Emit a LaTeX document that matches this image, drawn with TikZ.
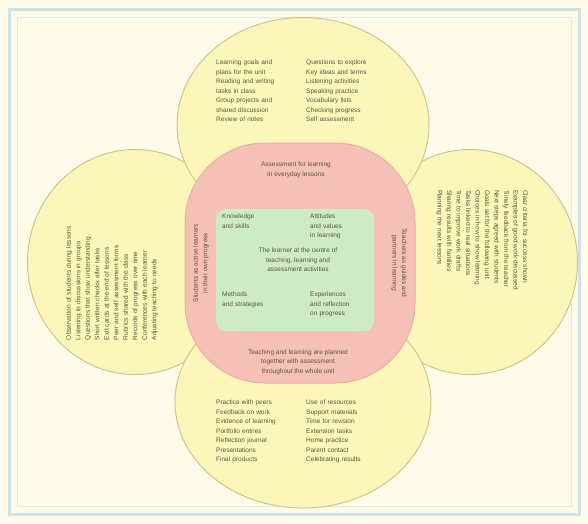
\documentclass[tikz,border=0pt]{standalone}
\usepackage{fontspec}
\setmainfont{Liberation Sans}
\usetikzlibrary{shapes.geometric}
\definecolor{cream}{HTML}{FEFBEA}
\definecolor{framecol}{HTML}{CFE2E6}
\definecolor{petalfill}{HTML}{FBF6BA}
\definecolor{petaledge}{HTML}{CFC68E}
\definecolor{ringfill}{HTML}{F5C0B6}
\definecolor{ringedge}{HTML}{EBADA3}
\definecolor{corefill}{HTML}{CDEBC4}
\definecolor{txt}{HTML}{5C5636}
\tikzset{
  petal/.style={ellipse, draw=petaledge, line width=1pt, fill=petalfill},
  ringnode/.style={rectangle, rounded corners=80pt, draw=ringedge, line width=1pt, fill=ringfill},
  corenode/.style={rectangle, rounded corners=10pt, fill=corefill},
  tline/.style={font=\fontsize{6.5}{9.5}\selectfont, text=txt, align=left, inner sep=0pt},
}
\begin{document}
\begin{tikzpicture}[x=1pt,y=-1pt]
\useasboundingbox (0,0) rectangle (588,523);
\fill[cream] (0,0) rectangle (588,523);
\draw[framecol, line width=3pt] (9,9) rectangle (579,514);
\draw[framecol!70, line width=0.6pt] (17,17) rectangle (571,506);

% petals
\node[petal, minimum width=215pt, minimum height=225pt] (left) at (135,262) {};
\node[petal, minimum width=215pt, minimum height=225pt] (right) at (470,262) {};
\node[petal, minimum width=252pt, minimum height=215pt] (top) at (303,125) {};
\node[petal, minimum width=256pt, minimum height=212pt] (bottom) at (303,402) {};

% ring and core
\node[ringnode, minimum width=230pt, minimum height=240pt] (ring) at (300,263) {};
\node[corenode, minimum width=158pt, minimum height=122pt] (core) at (295,270) {};

% top texts
\node[tline, text width=82pt, anchor=north west] (toptxtL) at (216,60)
  {Learning goals and\\ plans for the unit\\ Reading and writing\\ tasks in class\\ Group projects and\\ shared discussion\\ Review of notes};
\node[tline, text width=80pt, anchor=north west] (toptxtR) at (306,60)
  {Questions to explore\\ Key ideas and terms\\ Listening activities\\ Speaking practice\\ Vocabulary lists\\ Checking progress\\ Self assessment};

% bottom texts
\node[tline, text width=82pt, anchor=north west] (bottxtL) at (216,400)
  {Practice with peers\\ Feedback on work\\ Evidence of learning\\ Portfolio entries\\ Reflection journal\\ Presentations\\ Final products};
\node[tline, text width=80pt, anchor=north west] (bottxtR) at (306,400)
  {Use of resources\\ Support materials\\ Time for revision\\ Extension tasks\\ Home practice\\ Parent contact\\ Celebrating results};

% left vertical texts
\node[tline, text width=150pt, rotate=90, anchor=center] (lefttxt) at (112,265)
  {Observation of students during lessons\\ Listening to discussions in groups\\ Questions that show understanding\\ Short written checks after tasks\\ Exit cards at the end of lessons\\ Peer and self assessment forms\\ Rubrics shared with the class\\ Records of progress over time\\ Conferences with each learner\\ Adjusting teaching to needs};

% right vertical texts
\node[tline, text width=150pt, rotate=-90, anchor=center] (righttxt) at (482,265)
  {Clear criteria for success shown\\ Examples of good work discussed\\ Timely feedback from the teacher\\ Next steps agreed with students\\ Goals set for the following unit\\ Choices in how to show learning\\ Tasks linked to real situations\\ Time to improve work drafts\\ Sharing results with families\\ Planning the next lessons};

% ring texts
\node[tline, align=center, anchor=center] (ringtop) at (296,170) {Assessment for learning\\ in everyday lessons};
\node[tline, align=center, anchor=center] (ringbot) at (298,362) {Teaching and learning are planned\\ together with assessment\\ throughout the whole unit};
\node[tline, align=center, rotate=90, anchor=center] (ringleft) at (201,263) {Students as active learners\\ in their own progress};
\node[tline, align=center, rotate=-90, anchor=center] (ringright) at (399,263) {Teachers as guides and\\ partners in learning};

% core texts
\node[tline, text width=70pt, anchor=north west] (coreA) at (222,214) {Knowledge\\ and skills};
\node[tline, text width=62pt, anchor=north west] (coreB) at (310,214) {Attitudes\\ and values\\ in learning};
\node[tline, align=center, anchor=center] (coreC) at (298,260) {The learner at the centre of\\ teaching, learning and\\ assessment activities};
\node[tline, text width=70pt, anchor=north west] (coreD) at (222,292) {Methods\\ and strategies};
\node[tline, text width=62pt, anchor=north west] (coreE) at (310,292) {Experiences\\ and reflection\\ on progress};
\end{tikzpicture}
\end{document}
